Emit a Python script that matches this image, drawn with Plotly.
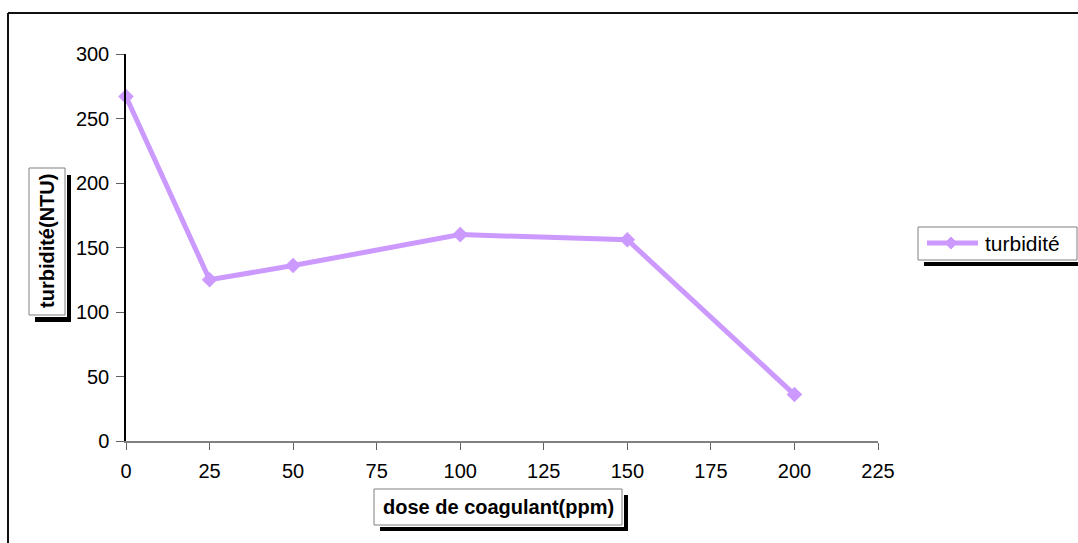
import plotly.graph_objects as go

# Jar-test results: turbidity vs coagulant dose
dose_ppm = [0, 25, 50, 100, 150, 200]
turbidite_ntu = [267, 125, 136, 160, 156, 36]

x_ticks = [0, 25, 50, 75, 100, 125, 150, 175, 200, 225]
y_ticks = [0, 50, 100, 150, 200, 250, 300]

W, H = 1078, 543
L, R, T, B = 126, 200, 54, 102
PW, PH = W - L - R, H - T - B

LINE_COLOR = "#CC99FF"
FONT = "Arial, Liberation Sans, sans-serif"


def fx(px):
    """pixel column -> paper x"""
    return (px - L) / PW


def fy(py):
    """pixel row -> paper y"""
    return (H - B - py) / PH


def rect(x0, y0, x1, y1, fill=None, line=None, width=1):
    return dict(
        type="rect", xref="paper", yref="paper",
        x0=fx(x0), x1=fx(x1), y0=fy(y1), y1=fy(y0),
        fillcolor=fill if fill else "rgba(0,0,0,0)",
        line=dict(color=line if line else "rgba(0,0,0,0)", width=width if line else 0),
        layer="above",
    )


def boxed(x0, y0, x1, y1, dx=6, dy=7):
    """white box with grey border and a black drop shadow"""
    return [
        rect(x0 + dx, y0 + dy, x1 + dx, y1 + dy, fill="black"),
        rect(x0, y0, x1 + 2, y1 + 2, fill="white"),
        rect(x0, y0, x1, y1, line="#808080", width=1),
    ]


fig = go.Figure()
fig.add_trace(go.Scatter(
    x=dose_ppm, y=turbidite_ntu, mode="lines+markers", name="turbidité",
    line=dict(color=LINE_COLOR, width=5),
    marker=dict(symbol="diamond", size=12, color=LINE_COLOR),
    cliponaxis=False, showlegend=False,
))

shapes = []
# outer chart frame (top and left edges)
shapes.append(dict(type="line", xref="paper", yref="paper",
                   x0=fx(8), x1=fx(1090), y0=fy(13), y1=fy(13),
                   line=dict(color="#111111", width=2), layer="above"))
shapes.append(dict(type="line", xref="paper", yref="paper",
                   x0=fx(8), x1=fx(8), y0=fy(13), y1=fy(560),
                   line=dict(color="#111111", width=2), layer="above"))

# axis title boxes
shapes += boxed(29, 168, 65, 315)
shapes += boxed(374, 489, 622, 525, dx=6, dy=6)
# legend box
shapes += boxed(918, 227, 1077, 260, dx=6, dy=6)

# legend sample: line with diamond marker
ly = 243
shapes.append(dict(type="line", xref="paper", yref="paper",
                   x0=fx(927), x1=fx(978), y0=fy(ly), y1=fy(ly),
                   line=dict(color=LINE_COLOR, width=5), layer="above"))
cx, r = 951, 6
path = "M {} {} L {} {} L {} {} L {} {} Z".format(
    fx(cx - r), fy(ly), fx(cx), fy(ly - r), fx(cx + r), fy(ly), fx(cx), fy(ly + r))
shapes.append(dict(type="path", xref="paper", yref="paper", path=path,
                   fillcolor=LINE_COLOR, line=dict(color=LINE_COLOR, width=1), layer="above"))

annotations = [
    dict(text="<b>turbidité(NTU)</b>", textangle=-90, xref="paper", yref="paper",
         x=fx(47), y=fy(241), xanchor="center", yanchor="middle", showarrow=False,
         font=dict(family=FONT, size=20, color="black")),
    dict(text="<b>dose de coagulant(ppm)</b>", xref="paper", yref="paper",
         x=fx(498), y=fy(507), xanchor="center", yanchor="middle", showarrow=False,
         font=dict(family=FONT, size=20, color="black")),
    dict(text="turbidité", xref="paper", yref="paper",
         x=fx(983), y=fy(ly), xanchor="left", yanchor="middle", showarrow=False,
         font=dict(family=FONT, size=21, color="black")),
]

fig.update_layout(
    width=W, height=H,
    margin=dict(l=L, r=R, t=T, b=B, pad=0),
    paper_bgcolor="white", plot_bgcolor="white",
    font=dict(family=FONT, size=20, color="black"),
    shapes=shapes, annotations=annotations,
    showlegend=False,
    xaxis=dict(range=[0, 225], tickvals=x_ticks, ticktext=[str(v) for v in x_ticks],
               showgrid=False, zeroline=False, showline=True,
               linecolor="#808080", linewidth=1.5,
               ticks="outside", ticklen=7, tickcolor="#606060", tickwidth=1,
               ticklabelstandoff=4,
               tickfont=dict(family=FONT, size=20, color="black")),
    yaxis=dict(range=[0, 300], tickvals=y_ticks, ticktext=[str(v) for v in y_ticks],
               showgrid=False, zeroline=False, showline=True,
               linecolor="black", linewidth=1.5,
               ticks="outside", ticklen=8, tickcolor="#606060", tickwidth=1,
               ticklabelstandoff=3,
               tickfont=dict(family=FONT, size=20, color="black")),
)

fig.write_html("out.html")
